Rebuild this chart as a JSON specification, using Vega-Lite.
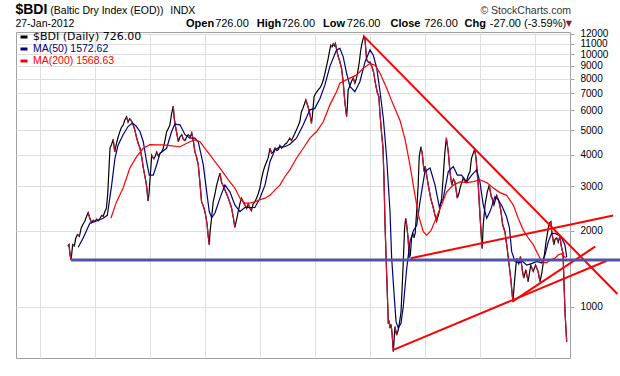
{
  "$schema": "https://vega.github.io/schema/vega-lite/v6.json",
  "width": 554,
  "height": 326,
  "autosize": {"type": "none"},
  "padding": {"left": 16, "top": 32, "right": 50, "bottom": 18},
  "background": "#ffffff",
  "config": {
    "font": "Liberation Sans",
    "view": {"stroke": "#a0a0a0", "strokeWidth": 1}
  },
  "datasets": {
    "bdi": [
      {"date":"2003-01-02","v":1738},{"date":"2003-01-10","v":1765},{"date":"2003-01-17","v":1600},{"date":"2003-01-24","v":1530},
      {"date":"2003-02-03","v":1760},{"date":"2003-02-14","v":1740},{"date":"2003-02-24","v":1870},{"date":"2003-03-07","v":1930},
      {"date":"2003-03-20","v":1900},{"date":"2003-04-01","v":2050},{"date":"2003-04-11","v":2110},{"date":"2003-04-25","v":2180},
      {"date":"2003-05-08","v":2290},{"date":"2003-05-17","v":2360},{"date":"2003-05-27","v":2250},{"date":"2003-06-09","v":2150},
      {"date":"2003-06-20","v":2200},{"date":"2003-07-01","v":2170},{"date":"2003-07-12","v":2220},{"date":"2003-07-24","v":2190},
      {"date":"2003-08-04","v":2240},{"date":"2003-08-15","v":2300},{"date":"2003-08-25","v":2280},{"date":"2003-09-05","v":2380},
      {"date":"2003-09-15","v":2450},{"date":"2003-09-24","v":2800},{"date":"2003-10-01","v":3400},{"date":"2003-10-09","v":4250},
      {"date":"2003-10-20","v":4400},{"date":"2003-10-30","v":4600},{"date":"2003-11-10","v":4100},{"date":"2003-11-20","v":4400},
      {"date":"2003-12-02","v":4700},{"date":"2003-12-12","v":4900},{"date":"2003-12-22","v":5100},{"date":"2004-01-05","v":5250},
      {"date":"2004-01-16","v":5500},{"date":"2004-01-27","v":5650},{"date":"2004-02-06","v":5380},{"date":"2004-02-16","v":5550},
      {"date":"2004-02-24","v":5494},{"date":"2004-03-09","v":5300},{"date":"2004-03-22","v":5000},{"date":"2004-04-03","v":4660},
      {"date":"2004-04-15","v":4400},{"date":"2004-04-25","v":4250},{"date":"2004-05-07","v":3900},{"date":"2004-05-17","v":3550},
      {"date":"2004-05-27","v":3300},{"date":"2004-06-04","v":3120},{"date":"2004-06-11","v":2900},{"date":"2004-06-17","v":2620},
      {"date":"2004-06-24","v":2800},{"date":"2004-06-30","v":3150},{"date":"2004-07-07","v":3600},{"date":"2004-07-12","v":3980},
      {"date":"2004-07-20","v":3900},{"date":"2004-07-27","v":3850},{"date":"2004-08-05","v":3950},{"date":"2004-08-14","v":4100},
      {"date":"2004-08-25","v":3950},{"date":"2004-09-05","v":4050},{"date":"2004-09-16","v":4100},{"date":"2004-09-27","v":4250},
      {"date":"2004-10-08","v":4550},{"date":"2004-10-19","v":4930},{"date":"2004-11-01","v":5100},{"date":"2004-11-10","v":5250},
      {"date":"2004-11-21","v":5800},{"date":"2004-12-02","v":6230},{"date":"2004-12-08","v":5600},{"date":"2004-12-15","v":5250},
      {"date":"2004-12-27","v":4800},{"date":"2005-01-05","v":4500},{"date":"2005-01-15","v":4700},{"date":"2005-01-27","v":4800},
      {"date":"2005-02-07","v":4600},{"date":"2005-02-18","v":4550},{"date":"2005-03-01","v":4700},{"date":"2005-03-11","v":4800},
      {"date":"2005-03-25","v":4700},{"date":"2005-04-04","v":4880},{"date":"2005-04-15","v":4500},{"date":"2005-04-25","v":4100},
      {"date":"2005-05-06","v":3900},{"date":"2005-05-17","v":3650},{"date":"2005-05-28","v":3100},{"date":"2005-06-08","v":2600},
      {"date":"2005-06-20","v":2500},{"date":"2005-06-30","v":2380},{"date":"2005-07-08","v":2250},{"date":"2005-07-15","v":2110},
      {"date":"2005-07-22","v":1900},{"date":"2005-07-29","v":1760},{"date":"2005-08-04","v":2000},{"date":"2005-08-12","v":2200},
      {"date":"2005-08-24","v":2600},{"date":"2005-09-05","v":2800},{"date":"2005-09-16","v":3030},{"date":"2005-09-27","v":3200},
      {"date":"2005-10-08","v":3380},{"date":"2005-10-19","v":3100},{"date":"2005-10-31","v":3000},{"date":"2005-11-10","v":2900},
      {"date":"2005-11-21","v":2800},{"date":"2005-12-02","v":2690},{"date":"2005-12-13","v":2580},{"date":"2005-12-24","v":2460},
      {"date":"2006-01-05","v":2250},{"date":"2006-01-15","v":2060},{"date":"2006-01-26","v":2200},{"date":"2006-02-06","v":2380},
      {"date":"2006-02-17","v":2550},{"date":"2006-02-28","v":2690},{"date":"2006-03-11","v":2600},{"date":"2006-03-22","v":2530},
      {"date":"2006-04-03","v":2450},{"date":"2006-04-14","v":2550},{"date":"2006-04-24","v":2460},{"date":"2006-05-05","v":2400},
      {"date":"2006-05-16","v":2550},{"date":"2006-05-27","v":2600},{"date":"2006-06-08","v":2690},{"date":"2006-06-19","v":2800},
      {"date":"2006-06-30","v":2950},{"date":"2006-07-11","v":3200},{"date":"2006-07-22","v":3430},{"date":"2006-08-02","v":3600},
      {"date":"2006-08-14","v":3750},{"date":"2006-08-25","v":3900},{"date":"2006-09-05","v":4240},{"date":"2006-09-16","v":4050},
      {"date":"2006-09-27","v":4100},{"date":"2006-10-09","v":4250},{"date":"2006-10-21","v":4150},{"date":"2006-11-01","v":4200},
      {"date":"2006-11-10","v":4350},{"date":"2006-11-21","v":4240},{"date":"2006-12-02","v":4300},{"date":"2006-12-13","v":4400},
      {"date":"2006-12-24","v":4440},{"date":"2007-01-05","v":4550},{"date":"2007-01-15","v":4650},{"date":"2007-01-26","v":4550},
      {"date":"2007-02-06","v":4700},{"date":"2007-02-17","v":4850},{"date":"2007-02-28","v":5015},{"date":"2007-03-11","v":5200},
      {"date":"2007-03-22","v":5400},{"date":"2007-04-02","v":5920},{"date":"2007-04-12","v":6100},{"date":"2007-04-22","v":6350},
      {"date":"2007-05-01","v":6590},{"date":"2007-05-16","v":6190},{"date":"2007-05-28","v":5800},{"date":"2007-06-08","v":5320},
      {"date":"2007-06-15","v":5800},{"date":"2007-06-25","v":6800},{"date":"2007-07-06","v":7000},{"date":"2007-07-22","v":7220},
      {"date":"2007-08-03","v":7350},{"date":"2007-08-14","v":7560},{"date":"2007-08-25","v":7900},{"date":"2007-09-05","v":8400},
      {"date":"2007-09-16","v":9000},{"date":"2007-09-27","v":9640},{"date":"2007-10-06","v":10300},{"date":"2007-10-13","v":10850},
      {"date":"2007-10-22","v":10700},{"date":"2007-10-30","v":11000},{"date":"2007-11-07","v":10800},{"date":"2007-11-13","v":11039},
      {"date":"2007-11-22","v":10400},{"date":"2007-12-02","v":9780},{"date":"2007-12-12","v":9400},{"date":"2007-12-24","v":8800},
      {"date":"2008-01-04","v":7780},{"date":"2008-01-15","v":6500},{"date":"2008-01-27","v":5650},{"date":"2008-02-01","v":6200},
      {"date":"2008-02-06","v":7220},{"date":"2008-02-18","v":7500},{"date":"2008-02-28","v":7800},{"date":"2008-03-11","v":8040},
      {"date":"2008-03-22","v":7670},{"date":"2008-04-03","v":8100},{"date":"2008-04-14","v":8800},{"date":"2008-04-22","v":9500},
      {"date":"2008-04-29","v":10300},{"date":"2008-05-07","v":11000},{"date":"2008-05-20","v":11793},{"date":"2008-05-28","v":11500},
      {"date":"2008-06-03","v":10300},{"date":"2008-06-08","v":9490},{"date":"2008-06-20","v":9300},{"date":"2008-07-01","v":9300},
      {"date":"2008-07-12","v":8950},{"date":"2008-07-24","v":8500},{"date":"2008-08-03","v":7780},{"date":"2008-08-18","v":7030},
      {"date":"2008-08-28","v":6800},{"date":"2008-09-05","v":5740},{"date":"2008-09-16","v":4790},{"date":"2008-09-24","v":4300},
      {"date":"2008-10-01","v":3230},{"date":"2008-10-08","v":2110},{"date":"2008-10-19","v":1335},{"date":"2008-10-30","v":855},
      {"date":"2008-11-04","v":880},{"date":"2008-11-10","v":822},{"date":"2008-11-17","v":850},{"date":"2008-11-24","v":780},
      {"date":"2008-12-02","v":663},{"date":"2008-12-13","v":833},{"date":"2008-12-24","v":772},{"date":"2009-01-04","v":810},
      {"date":"2009-01-14","v":880},{"date":"2009-01-22","v":950},{"date":"2009-01-30","v":1200},{"date":"2009-02-06","v":1500},
      {"date":"2009-02-15","v":2050},{"date":"2009-02-22","v":2240},{"date":"2009-03-01","v":2100},{"date":"2009-03-10","v":1870},
      {"date":"2009-03-18","v":1560},{"date":"2009-03-25","v":1600},{"date":"2009-04-02","v":1870},{"date":"2009-04-12","v":1950},
      {"date":"2009-04-17","v":1870},{"date":"2009-04-26","v":1950},{"date":"2009-05-06","v":2380},{"date":"2009-05-16","v":3030},
      {"date":"2009-05-23","v":3930},{"date":"2009-06-03","v":4291},{"date":"2009-06-12","v":4050},{"date":"2009-06-24","v":3430},
      {"date":"2009-07-02","v":3600},{"date":"2009-07-12","v":3300},{"date":"2009-07-22","v":3030},{"date":"2009-08-07","v":2690},
      {"date":"2009-08-24","v":2470},{"date":"2009-09-05","v":2300},{"date":"2009-09-16","v":2180},{"date":"2009-10-03","v":2380},
      {"date":"2009-10-19","v":2690},{"date":"2009-10-30","v":3320},{"date":"2009-11-08","v":4000},{"date":"2009-11-19","v":4661},
      {"date":"2009-12-02","v":4100},{"date":"2009-12-13","v":3430},{"date":"2009-12-25","v":3030},{"date":"2010-01-05","v":3200},
      {"date":"2010-01-15","v":3120},{"date":"2010-01-31","v":2690},{"date":"2010-02-10","v":2800},{"date":"2010-02-18","v":2950},
      {"date":"2010-03-01","v":3100},{"date":"2010-03-11","v":3230},{"date":"2010-03-21","v":3150},{"date":"2010-03-31","v":3100},
      {"date":"2010-04-12","v":3300},{"date":"2010-04-25","v":3430},{"date":"2010-05-05","v":3870},{"date":"2010-05-26","v":4209},
      {"date":"2010-06-04","v":3870},{"date":"2010-06-19","v":3030},{"date":"2010-06-30","v":2310},{"date":"2010-07-15","v":1700},
      {"date":"2010-07-22","v":2110},{"date":"2010-08-03","v":2530},{"date":"2010-08-18","v":2850},{"date":"2010-08-31","v":3030},
      {"date":"2010-09-12","v":2750},{"date":"2010-09-22","v":2650},{"date":"2010-10-01","v":2530},{"date":"2010-10-19","v":2760},
      {"date":"2010-11-04","v":2600},{"date":"2010-11-16","v":2400},{"date":"2010-11-28","v":2110},{"date":"2010-12-13","v":1980},
      {"date":"2010-12-28","v":1700},{"date":"2011-01-10","v":1460},{"date":"2011-01-20","v":1300},{"date":"2011-02-04","v":1043},
      {"date":"2011-02-11","v":1183},{"date":"2011-02-24","v":1460},{"date":"2011-03-04","v":1555},{"date":"2011-03-15","v":1480},
      {"date":"2011-03-26","v":1580},{"date":"2011-04-09","v":1375},{"date":"2011-04-17","v":1296},{"date":"2011-05-01","v":1400},
      {"date":"2011-05-16","v":1255},{"date":"2011-06-02","v":1460},{"date":"2011-06-19","v":1380},{"date":"2011-07-04","v":1460},
      {"date":"2011-07-21","v":1380},{"date":"2011-08-03","v":1255},{"date":"2011-08-14","v":1350},{"date":"2011-08-29","v":1555},
      {"date":"2011-09-12","v":1810},{"date":"2011-09-23","v":1980},{"date":"2011-10-03","v":2140},{"date":"2011-10-14","v":2173},
      {"date":"2011-10-20","v":1980},{"date":"2011-11-03","v":1760},{"date":"2011-11-11","v":1850},{"date":"2011-11-22","v":1870},
      {"date":"2011-12-02","v":1800},{"date":"2011-12-09","v":1870},{"date":"2011-12-16","v":1850},{"date":"2011-12-22","v":1738},
      {"date":"2012-01-03","v":1624},{"date":"2012-01-09","v":1250},{"date":"2012-01-16","v":950},{"date":"2012-01-23","v":800},
      {"date":"2012-01-27","v":726}
    ],
    "ma50": [
      {"date":"2003-03-12","v":1720},{"date":"2003-04-14","v":1870},{"date":"2003-05-28","v":2140},{"date":"2003-07-12","v":2185},
      {"date":"2003-08-25","v":2240},{"date":"2003-09-21","v":2300},{"date":"2003-10-20","v":3030},{"date":"2003-11-11","v":3870},
      {"date":"2003-12-02","v":4370},{"date":"2004-01-04","v":4800},{"date":"2004-02-06","v":5170},{"date":"2004-03-07","v":5340},
      {"date":"2004-03-29","v":5200},{"date":"2004-04-25","v":4940},{"date":"2004-05-17","v":4500},{"date":"2004-06-08","v":3750},
      {"date":"2004-06-26","v":3320},{"date":"2004-07-22","v":3320},{"date":"2004-08-14","v":3650},{"date":"2004-09-05","v":4050},
      {"date":"2004-10-19","v":4240},{"date":"2004-11-21","v":4940},{"date":"2004-12-13","v":5280},{"date":"2005-01-16","v":5250},
      {"date":"2005-02-18","v":4800},{"date":"2005-03-22","v":4650},{"date":"2005-04-25","v":4650},{"date":"2005-05-17","v":4500},
      {"date":"2005-06-19","v":3650},{"date":"2005-07-12","v":2850},{"date":"2005-07-29","v":2380},{"date":"2005-08-14","v":2250},
      {"date":"2005-09-05","v":2350},{"date":"2005-10-08","v":2690},{"date":"2005-11-10","v":3030},{"date":"2005-12-13","v":2850},
      {"date":"2006-01-15","v":2530},{"date":"2006-02-18","v":2380},{"date":"2006-03-22","v":2470},{"date":"2006-04-24","v":2470},
      {"date":"2006-05-28","v":2470},{"date":"2006-06-30","v":2690},{"date":"2006-08-03","v":3030},{"date":"2006-09-05","v":3750},
      {"date":"2006-10-08","v":4180},{"date":"2006-11-10","v":4300},{"date":"2006-12-13","v":4300},{"date":"2007-01-15","v":4400},
      {"date":"2007-02-28","v":4650},{"date":"2007-04-14","v":5250},{"date":"2007-05-28","v":6020},{"date":"2007-06-30","v":6100},
      {"date":"2007-08-03","v":6680},{"date":"2007-09-05","v":7560},{"date":"2007-10-08","v":8950},{"date":"2007-11-21","v":10400},
      {"date":"2007-12-13","v":10560},{"date":"2008-01-04","v":9780},{"date":"2008-01-27","v":8400},{"date":"2008-02-18","v":7450},
      {"date":"2008-03-22","v":7100},{"date":"2008-04-24","v":7780},{"date":"2008-05-28","v":9320},{"date":"2008-06-30","v":10400},
      {"date":"2008-07-22","v":9900},{"date":"2008-08-14","v":8800},{"date":"2008-09-05","v":7100},{"date":"2008-09-27","v":5550},
      {"date":"2008-10-19","v":3870},{"date":"2008-11-10","v":2380},{"date":"2008-11-21","v":1555},{"date":"2008-12-06","v":1147},
      {"date":"2008-12-20","v":872},{"date":"2009-01-04","v":822},{"date":"2009-01-22","v":859},{"date":"2009-02-06","v":1000},
      {"date":"2009-02-28","v":1400},{"date":"2009-03-22","v":1800},{"date":"2009-04-14","v":2000},{"date":"2009-05-06","v":2100},
      {"date":"2009-05-28","v":2600},{"date":"2009-06-30","v":3430},{"date":"2009-08-03","v":3540},{"date":"2009-09-05","v":3030},
      {"date":"2009-10-03","v":2490},{"date":"2009-10-30","v":2690},{"date":"2009-12-02","v":3430},{"date":"2010-01-04","v":3590},
      {"date":"2010-01-31","v":3320},{"date":"2010-02-28","v":3320},{"date":"2010-04-03","v":3120},{"date":"2010-05-06","v":3320},
      {"date":"2010-06-08","v":3480},{"date":"2010-06-30","v":3120},{"date":"2010-07-22","v":2530},{"date":"2010-08-14","v":2240},
      {"date":"2010-09-05","v":2380},{"date":"2010-10-08","v":2730},{"date":"2010-10-30","v":2650},{"date":"2010-11-24","v":2500},
      {"date":"2010-12-24","v":2270},{"date":"2011-01-12","v":2050},{"date":"2011-01-27","v":1650},{"date":"2011-02-18","v":1510},
      {"date":"2011-03-11","v":1490},{"date":"2011-04-10","v":1510},{"date":"2011-05-06","v":1460},{"date":"2011-06-08","v":1480},
      {"date":"2011-07-12","v":1510},{"date":"2011-08-14","v":1490},{"date":"2011-09-05","v":1605},{"date":"2011-09-27","v":1810},
      {"date":"2011-10-19","v":1950},{"date":"2011-11-10","v":1950},{"date":"2011-12-02","v":1925},{"date":"2011-12-24","v":1870},
      {"date":"2012-01-15","v":1760},{"date":"2012-01-27","v":1573}
    ],
    "ma200": [
      {"date":"2003-10-15","v":2240},{"date":"2003-11-21","v":2600},{"date":"2004-01-04","v":2950},{"date":"2004-02-18","v":3540},
      {"date":"2004-04-03","v":3930},{"date":"2004-05-17","v":4240},{"date":"2004-06-30","v":4380},{"date":"2004-08-14","v":4370},
      {"date":"2004-09-27","v":4370},{"date":"2004-11-10","v":4340},{"date":"2005-01-16","v":4300},{"date":"2005-03-22","v":4500},
      {"date":"2005-04-25","v":4580},{"date":"2005-05-28","v":4500},{"date":"2005-06-30","v":4240},{"date":"2005-08-03","v":3990},
      {"date":"2005-09-05","v":3750},{"date":"2005-10-08","v":3540},{"date":"2005-11-10","v":3320},{"date":"2005-12-13","v":3120},
      {"date":"2006-01-15","v":2950},{"date":"2006-02-18","v":2690},{"date":"2006-03-22","v":2570},{"date":"2006-04-24","v":2570},
      {"date":"2006-05-28","v":2600},{"date":"2006-06-30","v":2650},{"date":"2006-08-03","v":2690},{"date":"2006-09-05","v":2760},
      {"date":"2006-10-08","v":2900},{"date":"2006-11-10","v":3030},{"date":"2006-12-13","v":3270},{"date":"2007-01-15","v":3480},
      {"date":"2007-02-28","v":3870},{"date":"2007-04-14","v":4240},{"date":"2007-05-28","v":4650},{"date":"2007-07-12","v":4940},
      {"date":"2007-08-25","v":5400},{"date":"2007-10-08","v":6300},{"date":"2007-11-21","v":7100},{"date":"2007-12-13","v":7670},
      {"date":"2008-01-04","v":7800},{"date":"2008-02-18","v":8040},{"date":"2008-04-03","v":8280},{"date":"2008-05-17","v":8800},
      {"date":"2008-06-30","v":9200},{"date":"2008-08-03","v":9050},{"date":"2008-09-05","v":8400},{"date":"2008-10-19","v":7330},
      {"date":"2008-12-02","v":6300},{"date":"2009-01-16","v":5450},{"date":"2009-02-18","v":4600},{"date":"2009-03-22","v":3650},
      {"date":"2009-04-25","v":2760},{"date":"2009-05-17","v":2310},{"date":"2009-06-19","v":1980},{"date":"2009-07-12","v":1920},
      {"date":"2009-08-09","v":2000},{"date":"2009-09-16","v":2270},{"date":"2009-10-19","v":2530},{"date":"2009-11-21","v":2850},
      {"date":"2010-01-04","v":3030},{"date":"2010-02-18","v":3120},{"date":"2010-04-03","v":3100},{"date":"2010-05-17","v":3130},
      {"date":"2010-06-30","v":3180},{"date":"2010-08-14","v":3100},{"date":"2010-09-27","v":2950},{"date":"2010-11-10","v":2830},
      {"date":"2010-12-24","v":2760},{"date":"2011-02-06","v":2530},{"date":"2011-03-11","v":2240},{"date":"2011-04-14","v":2010},
      {"date":"2011-05-17","v":1870},{"date":"2011-06-19","v":1760},{"date":"2011-07-12","v":1650},{"date":"2011-08-03","v":1555},
      {"date":"2011-08-20","v":1500},{"date":"2011-09-16","v":1490},{"date":"2011-10-12","v":1534},{"date":"2011-11-10","v":1555},
      {"date":"2011-12-02","v":1605},{"date":"2011-12-24","v":1620},{"date":"2012-01-15","v":1570},{"date":"2012-01-27","v":1569}
    ],
    "trend": [
      {"seg":"down","date":"2008-05-20","v":11793},{"seg":"down","date":"2012-12-29","v":1123},
      {"seg":"up1","date":"2009-03-27","v":1555},{"seg":"up1","date":"2012-12-01","v":2297},
      {"seg":"up2","date":"2008-12-02","v":674},{"seg":"up2","date":"2012-10-19","v":1520},
      {"seg":"up3","date":"2011-01-31","v":1047},{"seg":"up3","date":"2012-08-03","v":1729}
    ],
    "level": [
      {"date":"2003-01-24","v":1530},{"date":"2013-01-15","v":1530}
    ]
  },
  "layer": [
    {
      "data": {"name": "bdi"},
      "mark": {"type": "line", "strokeWidth": 1.2},
      "encoding": {
        "x": {
          "field": "date", "type": "temporal",
          "scale": {"domain": [{"year": 2002, "month": 1, "date": 23}, {"year": 2012, "month": 2, "date": 18}], "nice": false},
          "axis": {
            "title": null,
            "values": [
              {"year":2002,"month":7,"date":1},{"year":2003,"month":1,"date":1},{"year":2003,"month":7,"date":1},
              {"year":2004,"month":1,"date":1},{"year":2004,"month":7,"date":1},{"year":2005,"month":1,"date":1},
              {"year":2005,"month":7,"date":1},{"year":2006,"month":1,"date":1},{"year":2006,"month":7,"date":1},
              {"year":2007,"month":1,"date":1},{"year":2007,"month":7,"date":1},{"year":2008,"month":1,"date":1},
              {"year":2008,"month":7,"date":1},{"year":2009,"month":1,"date":1},{"year":2009,"month":7,"date":1},
              {"year":2010,"month":1,"date":1},{"year":2010,"month":7,"date":1},{"year":2011,"month":1,"date":1},
              {"year":2011,"month":7,"date":1},{"year":2012,"month":1,"date":1}
            ],
            "labelExpr": "month(datum.value) == 0 ? timeFormat(datum.value, '%Y') : ''",
            "grid": true,
            "gridColor": {"condition": {"test": "month(datum.value) == 0", "value": "#bdbdbd"}, "value": "#e0e0e0"},
            "domain": false,
            "ticks": false,
            "labelFontSize": 11,
            "labelColor": "#000000",
            "labelPadding": 4,
            "labelFlush": false,
            "labelOverlap": false
          }
        },
        "y": {
          "field": "v", "type": "quantitative",
          "scale": {"type": "log", "domain": [626, 12245], "nice": false},
          "axis": {
            "title": null,
            "orient": "right",
            "values": [1000, 2000, 3000, 4000, 5000, 6000, 7000, 8000, 9000, 10000, 11000, 12000],
            "format": "d",
            "grid": true,
            "gridColor": "#dedede",
            "domain": false,
            "ticks": true,
            "tickSize": 4,
            "tickColor": "#a0a0a0",
            "labelFontSize": 10,
            "labelColor": "#000000",
            "labelPadding": 6,
            "labelOffset": {"condition": {"test": "datum.value == 12000", "value": -1}, "value": 0},
            "labelFlush": false,
            "labelOverlap": false
          }
        },
        "color": {
          "datum": "$BDI (Daily) 726.00",
          "scale": {
            "domain": ["$BDI (Daily) 726.00", "MA(50) 1572.62", "MA(200) 1568.63"],
            "range": ["#000000", "#000080", "#ff0000"]
          },
          "legend": {
            "title": null,
            "orient": "none",
            "legendX": 3,
            "legendY": 0,
            "padding": 0,
            "rowPadding": 0,
            "symbolType": "stroke",
            "symbolSize": 49,
            "symbolStrokeWidth": 3,
            "labelFontSize": 11,
            "labelOffset": 4,
            "encode": {
              "labels": {
                "update": {
                  "fill": {"scale": "color", "field": "value"},
                  "font": [{"test": "datum.label == '$BDI (Daily) 726.00'", "value": "DejaVu Sans"}, {"value": "Liberation Sans"}],
                  "fontSize": [{"test": "datum.label == '$BDI (Daily) 726.00'", "value": 11}, {"value": 10.5}]
                }
              }
            }
          }
        }
      }
    },
    {
      "data": {"name": "bdi"},
      "transform": [
        {"window": [{"op": "lead", "field": "v", "as": "v2"}, {"op": "lead", "field": "date", "as": "date2"}], "sort": [{"field": "date", "order": "ascending"}]},
        {"filter": "datum.v2 != null && datum.v2 < datum.v"}
      ],
      "mark": {"type": "rule", "color": "#d0103a", "strokeWidth": 1.2},
      "encoding": {
        "x": {"field": "date", "type": "temporal"},
        "x2": {"field": "date2"},
        "y": {"field": "v", "type": "quantitative"},
        "y2": {"field": "v2"}
      }
    },
    {
      "data": {"name": "ma50"},
      "mark": {"type": "line", "strokeWidth": 1.2},
      "encoding": {
        "x": {"field": "date", "type": "temporal"},
        "y": {"field": "v", "type": "quantitative"},
        "color": {"datum": "MA(50) 1572.62"}
      }
    },
    {
      "data": {"name": "ma200"},
      "mark": {"type": "line", "strokeWidth": 1.2},
      "encoding": {
        "x": {"field": "date", "type": "temporal"},
        "y": {"field": "v", "type": "quantitative"},
        "color": {"datum": "MA(200) 1568.63"}
      }
    },
    {
      "data": {"name": "trend"},
      "mark": {"type": "line", "color": "#ff0000", "strokeWidth": 2},
      "encoding": {
        "x": {"field": "date", "type": "temporal"},
        "y": {"field": "v", "type": "quantitative"},
        "detail": {"field": "seg"}
      }
    },
    {
      "data": {"name": "level"},
      "mark": {"type": "line", "color": "#5252aa", "strokeWidth": 3},
      "encoding": {
        "x": {"field": "date", "type": "temporal"},
        "y": {"field": "v", "type": "quantitative"}
      }
    },
    {
      "data": {"values": [{"t": "$BDI"}]},
      "mark": {"type": "text", "align": "left", "baseline": "alphabetic", "fontSize": 14, "fontWeight": "bold", "color": "#000000"},
      "encoding": {"x": {"datum": {"year": 2002, "month": 1, "date": 19}, "type": "temporal"}, "y": {"datum": 14430, "type": "quantitative"}, "text": {"field": "t"}}
    },
    {
      "data": {"values": [{"t": "(Baltic Dry Index (EOD))"}]},
      "mark": {"type": "text", "align": "left", "baseline": "alphabetic", "fontSize": 10.5, "color": "#000000"},
      "encoding": {"x": {"datum": {"year": 2002, "month": 9, "date": 8}, "type": "temporal"}, "y": {"datum": 14430, "type": "quantitative"}, "text": {"field": "t"}}
    },
    {
      "data": {"values": [{"t": "INDX"}]},
      "mark": {"type": "text", "align": "left", "baseline": "alphabetic", "fontSize": 10.5, "color": "#000000"},
      "encoding": {"x": {"datum": {"year": 2004, "month": 11, "date": 12}, "type": "temporal"}, "y": {"datum": 14430, "type": "quantitative"}, "text": {"field": "t"}}
    },
    {
      "data": {"values": [{"t": "© StockCharts.com"}]},
      "mark": {"type": "text", "align": "right", "baseline": "alphabetic", "fontSize": 10.5, "color": "#333333"},
      "encoding": {"x": {"datum": {"year": 2012, "month": 2, "date": 25}, "type": "temporal"}, "y": {"datum": 14430, "type": "quantitative"}, "text": {"field": "t"}}
    },
    {
      "data": {"values": [{"t": "27-Jan-2012"}]},
      "mark": {"type": "text", "align": "left", "baseline": "alphabetic", "fontSize": 10.5, "color": "#000000"},
      "encoding": {"x": {"datum": {"year": 2002, "month": 1, "date": 19}, "type": "temporal"}, "y": {"datum": 12812, "type": "quantitative"}, "text": {"field": "t"}}
    },
    {
      "data": {"values": [{"t": "Open"}]},
      "mark": {"type": "text", "align": "left", "baseline": "alphabetic", "fontSize": 11, "fontWeight": "bold", "color": "#000000"},
      "encoding": {"x": {"datum": {"year": 2005, "month": 2, "date": 25}, "type": "temporal"}, "y": {"datum": 12812, "type": "quantitative"}, "text": {"field": "t"}}
    },
    {
      "data": {"values": [{"t": "726.00"}]},
      "mark": {"type": "text", "align": "left", "baseline": "alphabetic", "fontSize": 11, "color": "#000000"},
      "encoding": {"x": {"datum": {"year": 2005, "month": 9, "date": 6}, "type": "temporal"}, "y": {"datum": 12812, "type": "quantitative"}, "text": {"field": "t"}}
    },
    {
      "data": {"values": [{"t": "High"}]},
      "mark": {"type": "text", "align": "left", "baseline": "alphabetic", "fontSize": 11, "fontWeight": "bold", "color": "#000000"},
      "encoding": {"x": {"datum": {"year": 2006, "month": 6, "date": 10}, "type": "temporal"}, "y": {"datum": 12812, "type": "quantitative"}, "text": {"field": "t"}}
    },
    {
      "data": {"values": [{"t": "726.00"}]},
      "mark": {"type": "text", "align": "left", "baseline": "alphabetic", "fontSize": 11, "color": "#000000"},
      "encoding": {"x": {"datum": {"year": 2006, "month": 11, "date": 20}, "type": "temporal"}, "y": {"datum": 12812, "type": "quantitative"}, "text": {"field": "t"}}
    },
    {
      "data": {"values": [{"t": "Low"}]},
      "mark": {"type": "text", "align": "left", "baseline": "alphabetic", "fontSize": 11, "fontWeight": "bold", "color": "#000000"},
      "encoding": {"x": {"datum": {"year": 2007, "month": 8, "date": 23}, "type": "temporal"}, "y": {"datum": 12812, "type": "quantitative"}, "text": {"field": "t"}}
    },
    {
      "data": {"values": [{"t": "726.00"}]},
      "mark": {"type": "text", "align": "left", "baseline": "alphabetic", "fontSize": 11, "color": "#000000"},
      "encoding": {"x": {"datum": {"year": 2008, "month": 1, "date": 28}, "type": "temporal"}, "y": {"datum": 12812, "type": "quantitative"}, "text": {"field": "t"}}
    },
    {
      "data": {"values": [{"t": "Close"}]},
      "mark": {"type": "text", "align": "left", "baseline": "alphabetic", "fontSize": 11, "fontWeight": "bold", "color": "#000000"},
      "encoding": {"x": {"datum": {"year": 2008, "month": 11, "date": 13}, "type": "temporal"}, "y": {"datum": 12812, "type": "quantitative"}, "text": {"field": "t"}}
    },
    {
      "data": {"values": [{"t": "726.00"}]},
      "mark": {"type": "text", "align": "left", "baseline": "alphabetic", "fontSize": 11, "color": "#000000"},
      "encoding": {"x": {"datum": {"year": 2009, "month": 6, "date": 25}, "type": "temporal"}, "y": {"datum": 12812, "type": "quantitative"}, "text": {"field": "t"}}
    },
    {
      "data": {"values": [{"t": "Chg"}]},
      "mark": {"type": "text", "align": "left", "baseline": "alphabetic", "fontSize": 11, "fontWeight": "bold", "color": "#000000"},
      "encoding": {"x": {"datum": {"year": 2010, "month": 3, "date": 20}, "type": "temporal"}, "y": {"datum": 12812, "type": "quantitative"}, "text": {"field": "t"}}
    },
    {
      "data": {"values": [{"t": "-27.00 (-3.59%)"}]},
      "mark": {"type": "text", "align": "left", "baseline": "alphabetic", "fontSize": 11, "color": "#000000"},
      "encoding": {"x": {"datum": {"year": 2010, "month": 9, "date": 3}, "type": "temporal"}, "y": {"datum": 12812, "type": "quantitative"}, "text": {"field": "t"}}
    },
    {
      "data": {"values": [{"t": "▼"}]},
      "mark": {"type": "text", "align": "center", "baseline": "alphabetic", "fontSize": 8, "font": "DejaVu Sans", "color": "#8b1a3a"},
      "encoding": {"x": {"datum": {"year": 2012, "month": 2, "date": 11}, "type": "temporal"}, "y": {"datum": 12900, "type": "quantitative"}, "text": {"field": "t"}}
    }
  ]
}
